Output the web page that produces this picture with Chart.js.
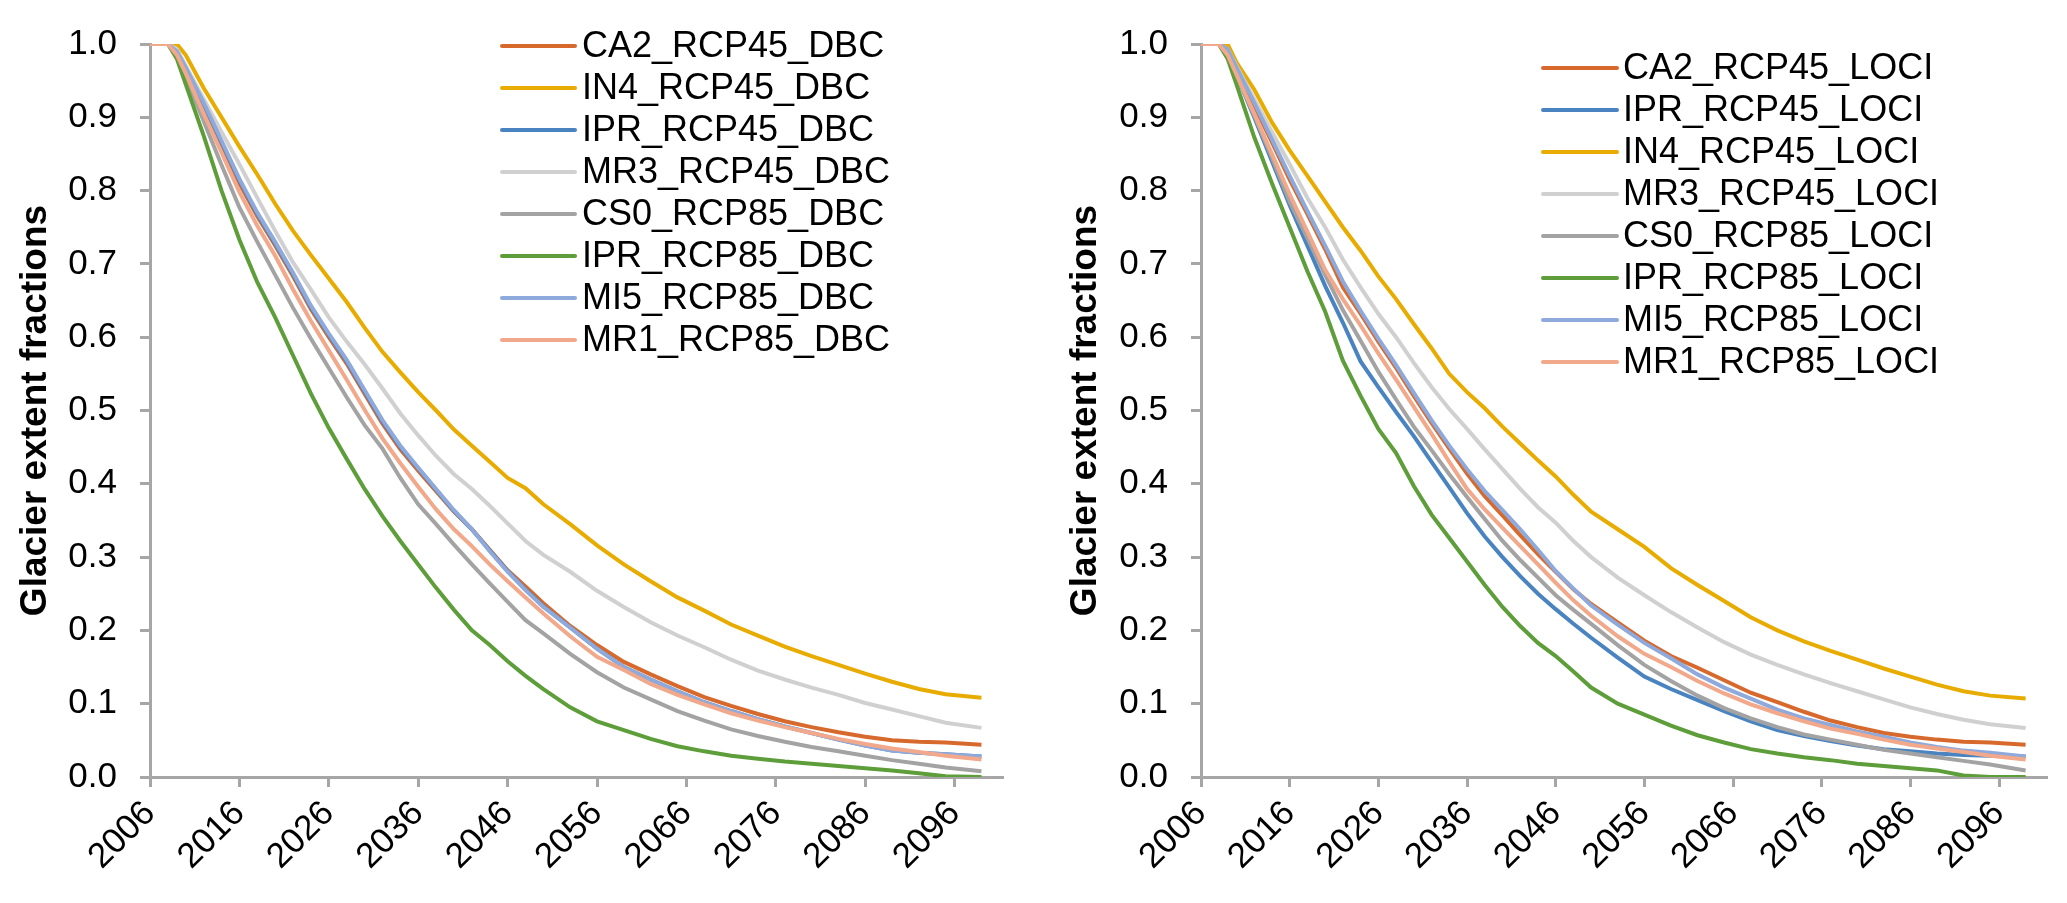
<!DOCTYPE html>
<html>
<head>
<meta charset="utf-8">
<title>Glacier extent fractions</title>
<script src="https://cdn.jsdelivr.net/npm/chart.js@4.4.1/dist/chart.umd.min.js"></script>
<style>
  html, body { margin: 0; padding: 0; background: #ffffff; }
  #wrap { position: relative; width: 2067px; height: 903px; overflow: hidden; }
  canvas { position: absolute; top: 0; }
  #dbcChart { left: 0; }
  #lociChart { left: 1040px; }
</style>
</head>
<body>
<div id="wrap">
  <canvas id="dbcChart" width="1040" height="903"></canvas>
  <canvas id="lociChart" width="1027" height="903"></canvas>
</div>
<script>
const years = [2006, 2008, 2009, 2010,
    2012, 2014, 2016, 2018, 2020, 2022, 2024, 2026, 2028, 2030,
    2032, 2034, 2036, 2038, 2040, 2042, 2044, 2046, 2048, 2050,
    2053, 2056, 2059, 2062, 2065, 2068, 2071, 2074, 2077, 2080,
    2083, 2086, 2089, 2092, 2095, 2099];

// Tick labels of the year axis
const tickYears = [2006, 2016, 2026, 2036, 2046, 2056, 2066, 2076, 2086, 2096];

// Left panel (DBC)
const dbcCA2 = [1, 1, 0.99, 0.965, 0.915, 0.862, 0.81, 0.765, 0.725, 0.683, 0.638, 0.6, 0.564, 0.523, 0.482, 0.447, 0.418, 0.39, 0.362, 0.338, 0.31, 0.282, 0.26, 0.237, 0.206, 0.18, 0.157, 0.14, 0.124, 0.109, 0.097, 0.086, 0.076, 0.068, 0.061, 0.055, 0.05, 0.048, 0.047, 0.044];
const dbcIN4 = [1, 1, 1, 0.985, 0.94, 0.9, 0.86, 0.822, 0.782, 0.745, 0.712, 0.68, 0.648, 0.613, 0.58, 0.552, 0.525, 0.5, 0.474, 0.452, 0.43, 0.408, 0.394, 0.372, 0.345, 0.316, 0.29, 0.267, 0.245, 0.227, 0.208, 0.193, 0.178, 0.165, 0.153, 0.141, 0.13, 0.12, 0.113, 0.108];
const dbcIPR45 = [1, 1, 0.99, 0.967, 0.918, 0.866, 0.814, 0.768, 0.728, 0.686, 0.641, 0.603, 0.567, 0.526, 0.485, 0.45, 0.421, 0.392, 0.363, 0.338, 0.309, 0.281, 0.256, 0.233, 0.204, 0.175, 0.15, 0.133, 0.117, 0.102, 0.09, 0.079, 0.069, 0.06, 0.051, 0.043, 0.036, 0.033, 0.031, 0.028];
const dbcMR3 = [1, 1, 0.993, 0.97, 0.925, 0.88, 0.836, 0.79, 0.745, 0.702, 0.665, 0.627, 0.594, 0.563, 0.53, 0.496, 0.466, 0.438, 0.413, 0.393, 0.37, 0.346, 0.322, 0.303, 0.28, 0.254, 0.232, 0.211, 0.193, 0.177, 0.16, 0.145, 0.133, 0.122, 0.112, 0.101, 0.092, 0.083, 0.074, 0.067];
const dbcCS0 = [1, 1, 0.985, 0.955, 0.895, 0.835, 0.777, 0.73, 0.685, 0.64, 0.598, 0.558, 0.518, 0.48, 0.448, 0.408, 0.372, 0.345, 0.317, 0.29, 0.264, 0.239, 0.214, 0.196, 0.168, 0.143, 0.122, 0.106, 0.09, 0.077, 0.065, 0.056, 0.048, 0.041, 0.035, 0.029, 0.023, 0.018, 0.013, 0.008];
const dbcIPR85 = [1, 1, 0.98, 0.945, 0.875, 0.8, 0.733, 0.675, 0.627, 0.575, 0.523, 0.476, 0.434, 0.393, 0.356, 0.322, 0.29, 0.258, 0.228, 0.2, 0.18, 0.158, 0.138, 0.12, 0.095, 0.076, 0.064, 0.052, 0.042, 0.035, 0.029, 0.025, 0.021, 0.018, 0.015, 0.012, 0.009, 0.005, 0.001, 0];
const dbcMI5 = [1, 1, 0.99, 0.968, 0.92, 0.868, 0.816, 0.77, 0.73, 0.688, 0.643, 0.605, 0.569, 0.528, 0.487, 0.452, 0.422, 0.393, 0.364, 0.338, 0.308, 0.28, 0.255, 0.232, 0.204, 0.175, 0.15, 0.133, 0.117, 0.102, 0.09, 0.079, 0.069, 0.06, 0.051, 0.043, 0.036, 0.033, 0.031, 0.028];
const dbcMR1 = [1, 1, 0.985, 0.96, 0.905, 0.852, 0.798, 0.752, 0.711, 0.665, 0.622, 0.582, 0.542, 0.501, 0.462, 0.428, 0.396, 0.365, 0.338, 0.315, 0.29, 0.267, 0.245, 0.223, 0.192, 0.164, 0.146, 0.127, 0.112, 0.099, 0.087, 0.077, 0.068, 0.06, 0.052, 0.045, 0.039, 0.034, 0.029, 0.024];

// Right panel (LOCI)
const lociCA2 = [1, 1, 0.99, 0.965, 0.916, 0.866, 0.815, 0.768, 0.72, 0.668, 0.632, 0.594, 0.558, 0.52, 0.483, 0.448, 0.414, 0.383, 0.357, 0.33, 0.304, 0.28, 0.256, 0.236, 0.211, 0.186, 0.165, 0.149, 0.132, 0.115, 0.102, 0.089, 0.077, 0.068, 0.06, 0.055, 0.051, 0.048, 0.047, 0.044];
const lociIPR45 = [1, 1, 0.985, 0.958, 0.9, 0.84, 0.78, 0.725, 0.67, 0.62, 0.567, 0.532, 0.498, 0.465, 0.43, 0.395, 0.36, 0.328, 0.3, 0.274, 0.25, 0.229, 0.209, 0.19, 0.163, 0.137, 0.12, 0.105, 0.09, 0.076, 0.064, 0.056, 0.049, 0.043, 0.038, 0.035, 0.032, 0.03, 0.029, 0.028];
const lociIN4 = [1, 1, 1, 0.975, 0.938, 0.893, 0.855, 0.82, 0.785, 0.75, 0.718, 0.683, 0.652, 0.618, 0.585, 0.55, 0.525, 0.503, 0.478, 0.455, 0.432, 0.41, 0.385, 0.362, 0.338, 0.314, 0.285, 0.262, 0.24, 0.218, 0.2, 0.185, 0.172, 0.16, 0.148, 0.137, 0.126, 0.117, 0.111, 0.107];
const lociMR3 = [1, 1, 0.993, 0.97, 0.925, 0.88, 0.836, 0.79, 0.75, 0.706, 0.668, 0.632, 0.6, 0.565, 0.532, 0.502, 0.475, 0.447, 0.42, 0.393, 0.368, 0.347, 0.322, 0.3, 0.272, 0.248, 0.225, 0.204, 0.184, 0.167, 0.153, 0.14, 0.128, 0.117, 0.106, 0.095, 0.086, 0.078, 0.072, 0.067];
const lociCS0 = [1, 1, 0.985, 0.958, 0.903, 0.845, 0.785, 0.735, 0.685, 0.637, 0.595, 0.553, 0.515, 0.478, 0.446, 0.413, 0.382, 0.352, 0.322, 0.296, 0.272, 0.248, 0.228, 0.209, 0.18, 0.153, 0.131, 0.111, 0.094, 0.08, 0.068, 0.058, 0.051, 0.044, 0.037, 0.032, 0.027, 0.022, 0.017, 0.009];
const lociIPR85 = [1, 1, 0.98, 0.945, 0.873, 0.81, 0.75, 0.69, 0.635, 0.568, 0.52, 0.475, 0.442, 0.397, 0.358, 0.326, 0.294, 0.262, 0.232, 0.206, 0.183, 0.165, 0.144, 0.122, 0.1, 0.085, 0.07, 0.057, 0.047, 0.038, 0.032, 0.027, 0.023, 0.018, 0.015, 0.012, 0.009, 0.002, 0, 0];
const lociMI5 = [1, 1, 0.993, 0.968, 0.92, 0.87, 0.82, 0.772, 0.725, 0.676, 0.636, 0.598, 0.562, 0.524, 0.487, 0.452, 0.42, 0.39, 0.364, 0.338, 0.31, 0.281, 0.257, 0.234, 0.208, 0.183, 0.162, 0.14, 0.122, 0.107, 0.092, 0.08, 0.071, 0.062, 0.055, 0.047, 0.041, 0.036, 0.033, 0.028];
const lociMR1 = [1, 1, 0.985, 0.958, 0.905, 0.85, 0.795, 0.744, 0.692, 0.652, 0.616, 0.578, 0.542, 0.505, 0.468, 0.43, 0.393, 0.365, 0.34, 0.315, 0.29, 0.265, 0.241, 0.22, 0.192, 0.168, 0.15, 0.131, 0.114, 0.099, 0.087, 0.076, 0.066, 0.059, 0.051, 0.044, 0.039, 0.034, 0.029, 0.024];

const COLORS = {
    CA2: "#D8692C",
    IN4: "#E8AC00",
    IPR45: "#4A84C0",
    MR3: "#D0D0D0",
    CS0: "#A3A3A3",
    IPR85: "#5E9E3A",
    MI5: "#8EA9DB",
    MR1: "#F2A88A",
};

const FONT = "'Liberation Sans', Arial, sans-serif";
const AXIS_GREY = "#A6A6A6";

// Draws the legend inside the plot, top right, like the Excel original
const insideLegend = {
    id: "insideLegend",
    afterDraw(chart, args, opts) {
        const ctx = chart.ctx;
        ctx.save();
        ctx.font = `${opts.fontSize}px ${FONT}`;
        ctx.textBaseline = "middle";
        ctx.textAlign = "left";
        chart.data.datasets.forEach((ds, i) => {
            const y = opts.y + i * opts.rowGap;
            ctx.strokeStyle = ds.borderColor;
            ctx.lineWidth = 4;
            ctx.lineCap = "round";
            ctx.beginPath();
            ctx.moveTo(opts.x, y);
            ctx.lineTo(opts.x + opts.lineLength, y);
            ctx.stroke();
            ctx.fillStyle = "#000000";
            ctx.fillText(ds.label, opts.x + opts.lineLength + opts.gap, y + 1);
        });
        ctx.restore();
    },
};

function toPoints(values) {
    return values.map((v, i) => ({ x: years[i], y: v }));
}

function makeDatasets(series) {
    return series.map((s, i) => ({
        label: s.label,
        data: toPoints(s.values),
        borderColor: s.color,
        backgroundColor: s.color,
        borderWidth: 4,
        pointRadius: 0,
        tension: 0,
        fill: false,
        order: -i, // later series drawn on top
    }));
}

function initChart(canvasId, series, plotLeft, plotRightPad, titlePad, legendPos) {
    const ctx = document.getElementById(canvasId).getContext("2d");
    return new Chart(ctx, {
        type: "line",
        data: { datasets: makeDatasets(series) },
        plugins: [insideLegend],
        options: {
            responsive: false,
            animation: false,
            layout: { padding: { top: 32, right: plotRightPad, left: 0, bottom: 0 } },
            plugins: {
                legend: { display: false },
                tooltip: { enabled: false },
                insideLegend: legendPos,
            },
            scales: {
                x: {
                    type: "linear",
                    min: 2006,
                    max: 2101.3,
                    afterBuildTicks: (scale) => {
                        scale.ticks = tickYears.map((v) => ({ value: v }));
                    },
                    afterFit: (scale) => {
                        scale.height = 126;
                    },
                    ticks: {
                        color: "#000000",
                        font: { family: FONT, size: 35 },
                        minRotation: 45,
                        maxRotation: 45,
                        padding: 6,
                        autoSkip: false,
                        callback: (v) => String(v),
                    },
                    grid: {
                        drawOnChartArea: false,
                        drawTicks: true,
                        tickLength: 10,
                        color: AXIS_GREY,
                        lineWidth: 3,
                    },
                    border: { display: true, color: AXIS_GREY, width: 3 },
                },
                y: {
                    min: 0,
                    max: 1,
                    afterFit: (scale) => {
                        scale.width = plotLeft;
                    },
                    ticks: {
                        stepSize: 0.1,
                        color: "#000000",
                        font: { family: FONT, size: 35 },
                        padding: 23,
                        callback: (v) => v.toFixed(1),
                    },
                    grid: {
                        drawOnChartArea: false,
                        drawTicks: true,
                        tickLength: 10,
                        color: AXIS_GREY,
                        lineWidth: 3,
                    },
                    border: { display: true, color: AXIS_GREY, width: 3 },
                    title: {
                        display: true,
                        text: "Glacier extent fractions",
                        color: "#000000",
                        font: { family: FONT, size: 37, weight: "bold" },
                        padding: { top: titlePad, bottom: 0 },
                    },
                },
            },
        },
    });
}

const dbcSeries = [
    { label: "CA2_RCP45_DBC", values: dbcCA2, color: COLORS.CA2 },
    { label: "IN4_RCP45_DBC", values: dbcIN4, color: COLORS.IN4 },
    { label: "IPR_RCP45_DBC", values: dbcIPR45, color: COLORS.IPR45 },
    { label: "MR3_RCP45_DBC", values: dbcMR3, color: COLORS.MR3 },
    { label: "CS0_RCP85_DBC", values: dbcCS0, color: COLORS.CS0 },
    { label: "IPR_RCP85_DBC", values: dbcIPR85, color: COLORS.IPR85 },
    { label: "MI5_RCP85_DBC", values: dbcMI5, color: COLORS.MI5 },
    { label: "MR1_RCP85_DBC", values: dbcMR1, color: COLORS.MR1 },
];

const lociSeries = [
    { label: "CA2_RCP45_LOCI", values: lociCA2, color: COLORS.CA2 },
    { label: "IPR_RCP45_LOCI", values: lociIPR45, color: COLORS.IPR45 },
    { label: "IN4_RCP45_LOCI", values: lociIN4, color: COLORS.IN4 },
    { label: "MR3_RCP45_LOCI", values: lociMR3, color: COLORS.MR3 },
    { label: "CS0_RCP85_LOCI", values: lociCS0, color: COLORS.CS0 },
    { label: "IPR_RCP85_LOCI", values: lociIPR85, color: COLORS.IPR85 },
    { label: "MI5_RCP85_LOCI", values: lociMI5, color: COLORS.MI5 },
    { label: "MR1_RCP85_LOCI", values: lociMR1, color: COLORS.MR1 },
];

document.addEventListener("DOMContentLoaded", () => {
    initChart("dbcChart", dbcSeries, 150, 38, 14,
        { x: 502, y: 46, rowGap: 42, lineLength: 73, gap: 7, fontSize: 36 });
    initChart("lociChart", lociSeries, 161, 21, 24,
        { x: 503, y: 68, rowGap: 42, lineLength: 74, gap: 6, fontSize: 36 });
});
</script>
</body>
</html>
